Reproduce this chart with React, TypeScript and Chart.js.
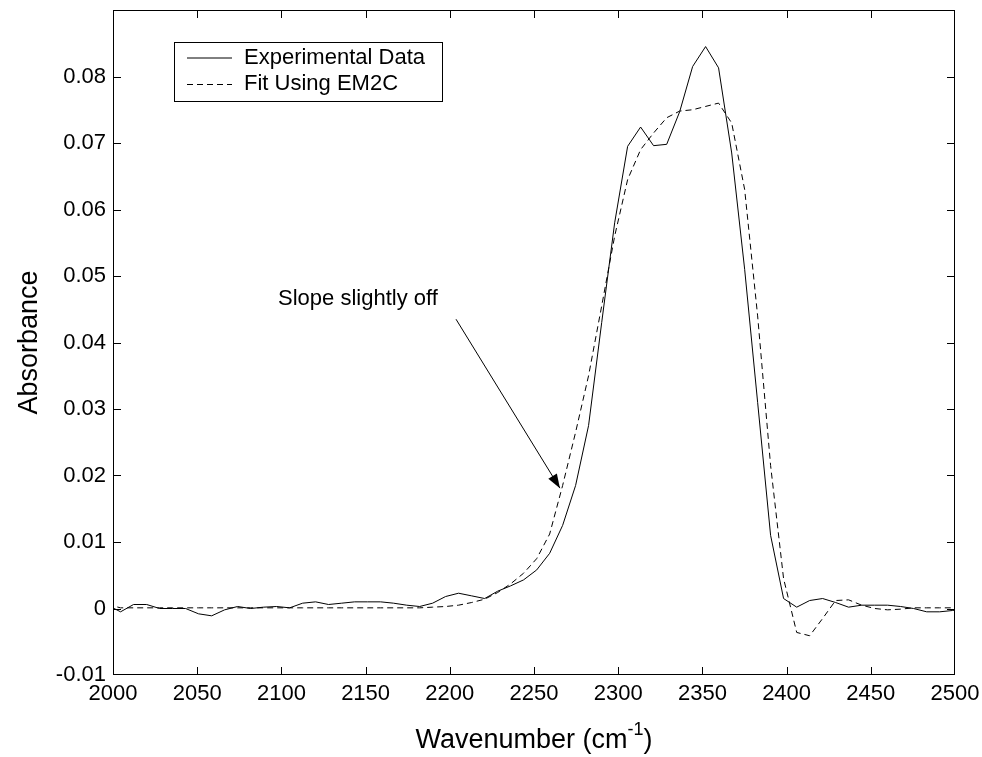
import React, { useEffect, useRef } from "react";
import { Chart, registerables } from "chart.js";

Chart.register(...registerables);

const wavenumber = [
  1996.8, 2004.5, 2012.2, 2020.0, 2027.7, 2035.4, 2043.1, 2050.8, 2058.6, 2066.3,
  2074.0, 2081.7, 2089.4, 2097.2, 2104.9, 2112.6, 2120.3, 2128.0, 2135.8, 2143.5,
  2151.2, 2158.9, 2166.6, 2174.4, 2182.1, 2189.8, 2197.5, 2205.2, 2213.0, 2220.7,
  2228.4, 2236.1, 2243.8, 2251.6, 2259.3, 2267.0, 2274.7, 2282.4, 2290.2, 2297.9,
  2305.6, 2313.3, 2321.0, 2328.8, 2336.5, 2344.2, 2351.9, 2359.6, 2367.4, 2375.1,
  2382.8, 2390.5, 2398.2, 2406.0, 2413.7, 2421.4, 2429.1, 2436.8, 2444.6, 2452.3,
  2460.0, 2467.7, 2475.4, 2483.2, 2490.9, 2498.6, 2506.3,
];

const experimental = [
  0.0005, -0.0005, 0.0006, 0.0006, 0.0, 0.0, 0.0, -0.0008, -0.0011, -0.0002,
  0.0003, 0.0, 0.0002, 0.0003, 0.0001, 0.0008, 0.001, 0.0006, 0.0008, 0.001,
  0.001, 0.001, 0.0008, 0.0005, 0.0003, 0.0008, 0.0018, 0.0023, 0.0019, 0.0015,
  0.0026, 0.0034, 0.0043, 0.0058, 0.0083, 0.0125, 0.0185, 0.0275, 0.043, 0.058,
  0.0695, 0.0724, 0.0696, 0.0698, 0.0747, 0.0815, 0.0845, 0.0813, 0.0685, 0.051,
  0.031, 0.011, 0.0015, 0.0002, 0.0012, 0.0015, 0.0009, 0.0002, 0.0005, 0.0005,
  0.0005, 0.0003, 0.0, -0.0005, -0.0005, -0.0003, 0.0,
];

const fitEM2C = [
  0.0006, 0.0001, 0.0001, 0.0001, 0.0001, 0.0001, 0.0001, 0.0001, 0.0001, 0.0001,
  0.0001, 0.0001, 0.0001, 0.0001, 0.0001, 0.0001, 0.0001, 0.0001, 0.0001, 0.0001,
  0.0001, 0.0001, 0.0001, 0.0001, 0.0001, 0.0002, 0.0003, 0.0005, 0.0009, 0.0014,
  0.0024, 0.0037, 0.0053, 0.0075, 0.0112, 0.0185, 0.0265, 0.035, 0.0455, 0.056,
  0.0645, 0.069, 0.0715, 0.0738, 0.0748, 0.075, 0.0755, 0.076, 0.073, 0.063,
  0.044, 0.0215, 0.0045, -0.0036, -0.0041, -0.0015, 0.0012, 0.0013, 0.0005, 0.0,
  -0.0002, -0.0001, 0.0001, 0.0001, 0.0001, 0.0001, 0.0001,
];

const seriesNames = ["Experimental Data", "Fit Using EM2C"];
const annotationText = "Slope slightly off";
const xTitle = "Wavenumber (cm";
const xTitleSup = "-1";
const yTitle = "Absorbance";

const FONT = "'Liberation Sans', Arial, Helvetica, sans-serif";

const decorPlugin = {
  id: "decor",
  afterDraw(chart: any) {
    const ctx = chart.ctx;
    const { left, right, top, bottom } = chart.chartArea;
    const xs = chart.scales.x;
    const ys = chart.scales.y;
    ctx.save();
    // frame
    ctx.strokeStyle = "#000";
    ctx.lineWidth = 1;
    ctx.strokeRect(left + 0.5, top + 0.5, right - left - 1, bottom - top - 1);
    // inward ticks
    const tl = 8;
    ctx.beginPath();
    xs.ticks.forEach((t: any) => {
      let px = Math.round(xs.getPixelForValue(t.value)) + 0.5;
      px = Math.min(Math.max(px, left + 0.5), right - 0.5);
      ctx.moveTo(px, bottom);
      ctx.lineTo(px, bottom - tl);
      ctx.moveTo(px, top);
      ctx.lineTo(px, top + tl);
    });
    ys.ticks.forEach((t: any) => {
      let py = Math.round(ys.getPixelForValue(t.value)) + 0.5;
      py = Math.min(Math.max(py, top + 0.5), bottom - 0.5);
      ctx.moveTo(left, py);
      ctx.lineTo(left + tl, py);
      ctx.moveTo(right, py);
      ctx.lineTo(right - tl, py);
    });
    ctx.stroke();

    // legend
    const lx = left + 61, ly = top + 32, lw = 268, lh = 59;
    ctx.fillStyle = "#fff";
    ctx.fillRect(lx, ly, lw, lh);
    ctx.strokeRect(lx + 0.5, ly + 0.5, lw, lh);
    ctx.lineWidth = 1;
    ctx.beginPath();
    ctx.moveTo(lx + 13, ly + 16);
    ctx.lineTo(lx + 58, ly + 16);
    ctx.stroke();
    ctx.setLineDash([6, 4]);
    ctx.beginPath();
    ctx.moveTo(lx + 13, ly + 42.5);
    ctx.lineTo(lx + 58, ly + 42.5);
    ctx.stroke();
    ctx.setLineDash([]);
    ctx.fillStyle = "#000";
    ctx.font = `22px ${FONT}`;
    ctx.textAlign = "left";
    ctx.textBaseline = "middle";
    ctx.fillText(seriesNames[0], lx + 70, ly + 16);
    ctx.fillText(seriesNames[1], lx + 70, ly + 42);

    // annotation
    ctx.fillText(annotationText, xs.getPixelForValue(2098), ys.getPixelForValue(0.0466));
    const ax0 = xs.getPixelForValue(2203.7), ay0 = ys.getPixelForValue(0.0435);
    const ax1 = xs.getPixelForValue(2265.4), ay1 = ys.getPixelForValue(0.0181);
    ctx.beginPath();
    ctx.moveTo(ax0, ay0);
    ctx.lineTo(ax1, ay1);
    ctx.stroke();
    const ang = Math.atan2(ay1 - ay0, ax1 - ax0);
    const hl = 14, hw = 5;
    const bx = ax1 - hl * Math.cos(ang), by = ay1 - hl * Math.sin(ang);
    ctx.beginPath();
    ctx.moveTo(ax1, ay1);
    ctx.lineTo(bx + hw * Math.sin(ang), by - hw * Math.cos(ang));
    ctx.lineTo(bx - hw * Math.sin(ang), by + hw * Math.cos(ang));
    ctx.closePath();
    ctx.fill();

    // axis titles
    ctx.font = `27px ${FONT}`;
    const mainW = ctx.measureText(xTitle).width;
    ctx.font = `18px ${FONT}`;
    const supW = ctx.measureText(xTitleSup).width;
    ctx.font = `27px ${FONT}`;
    const closeW = ctx.measureText(")").width;
    const total = mainW + supW + closeW;
    const cx = (left + right) / 2;
    let sx = cx - total / 2;
    const baseY = 748;
    ctx.textBaseline = "alphabetic";
    ctx.textAlign = "left";
    ctx.fillText(xTitle, sx, baseY);
    sx += mainW;
    ctx.font = `18px ${FONT}`;
    ctx.fillText(xTitleSup, sx, baseY - 13);
    sx += supW;
    ctx.font = `27px ${FONT}`;
    ctx.fillText(")", sx, baseY);

    ctx.translate(30, (top + bottom) / 2);
    ctx.rotate(-Math.PI / 2);
    ctx.textAlign = "center";
    ctx.textBaseline = "middle";
    ctx.fillText(yTitle, 0, 0);
    ctx.restore();
  },
};

export default function App() {
  const ref = useRef<HTMLCanvasElement | null>(null);
  useEffect(() => {
    if (!ref.current) return;
    const chart = new Chart(ref.current, {
      type: "line",
      data: {
        datasets: [
          {
            label: seriesNames[0],
            data: wavenumber.map((x, i) => ({ x, y: experimental[i] })),
            borderColor: "#000",
            borderWidth: 1,
            pointRadius: 0,
            tension: 0,
            fill: false,
          },
          {
            label: seriesNames[1],
            data: wavenumber.map((x, i) => ({ x, y: fitEM2C[i] })),
            borderColor: "#000",
            borderWidth: 1,
            borderDash: [6, 4],
            pointRadius: 0,
            tension: 0,
            fill: false,
          },
        ],
      },
      options: {
        responsive: false,
        animation: false,
        devicePixelRatio: 1,
        layout: { padding: { top: 10, right: 27, left: 0, bottom: 0 } },
        plugins: { legend: { display: false }, tooltip: { enabled: false } },
        scales: {
          x: {
            type: "linear",
            min: 2000,
            max: 2500,
            grid: { display: false, drawTicks: false },
            border: { display: false },
            ticks: {
              stepSize: 50,
              color: "#000",
              padding: 6,
              maxRotation: 0,
              font: { family: FONT, size: 22 },
              callback: (v: any) => String(Math.round(Number(v))),
            },
            afterFit: (s: any) => {
              s.height = 82;
              s.paddingLeft = 0;
              s.paddingRight = 0;
            },
          },
          y: {
            min: -0.01,
            max: 0.09,
            grid: { display: false, drawTicks: false },
            border: { display: false },
            ticks: {
              stepSize: 0.01,
              color: "#000",
              padding: 7,
              font: { family: FONT, size: 22 },
              callback: (v: any) => {
                const r = Math.round(Number(v) * 100) / 100;
                if (r >= 0.09) return "";
                if (r === 0) return "0";
                return r.toFixed(2);
              },
            },
            afterFit: (s: any) => {
              s.width = 113;
              s.paddingTop = 0;
              s.paddingBottom = 0;
            },
          },
        },
      },
      plugins: [decorPlugin],
    });
    return () => chart.destroy();
  }, []);
  return (
    <div style={{ position: "fixed", left: 0, top: 0, width: 982, height: 757, background: "#fff" }}>
      <canvas ref={ref} width={982} height={757} style={{ display: "block" }} />
    </div>
  );
}
